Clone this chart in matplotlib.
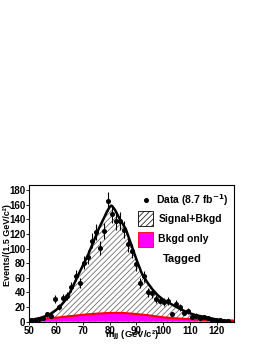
import matplotlib
matplotlib.use("Agg")
import matplotlib.pyplot as plt
from matplotlib.patches import Rectangle
import numpy as np

plt.rcParams['font.family'] = ['Liberation Sans', 'DejaVu Sans']
plt.rcParams['font.weight'] = 'bold'
plt.rcParams['hatch.linewidth'] = 0.5
plt.rcParams['mathtext.default'] = 'bf'

# data points, 1.5 GeV bins
bin_centers = 50.75 + 1.5 * np.arange(50)
counts = [2, 3, 4, 5, 10, 8, 31, 20, 32, 35,
          47, 63, 53, 81, 89, 111, 123, 101, 124, 165,
          148, 138, 138, 126, 106, 97, 79, 53, 62, 40,
          39, 31, 29, 27, 28, 10.5, 24.5, 19.5, 12, 15,
          6, 8.5, 5, 6, 5, 3, 2, 2, 1, 1]

# signal + background fit curve
fit_m = [50, 52, 54, 56, 58, 60, 62, 64, 66, 68, 70, 72, 74, 76, 78, 79, 80,
         80.5, 81, 82, 83, 84, 86, 88, 90, 92, 94, 96, 98, 100, 102, 104, 106,
         108, 110, 112, 114, 116, 118, 120, 122, 124, 126.5]
fit_v = [2, 3.5, 5, 7.5, 11, 16, 23, 32, 46, 62, 77, 92, 110, 128, 143, 151, 157,
         159, 158, 153, 146, 139, 127, 106, 85, 66, 54, 44, 36, 30, 26, 22, 18,
         14.5, 11.5, 9, 7.5, 6, 4.5, 3, 2, 1.2, 0.5]

# background only
bkg_m = [50, 55, 60, 65, 70, 75, 80, 85, 90, 95, 100, 105, 110, 115, 120, 126.5]
bkg_v = [2.5, 4, 5.5, 7.5, 9.5, 11, 12, 12, 10.5, 8.5, 6, 4.5, 3.5, 2.5, 2, 1.5]

fig = plt.figure(figsize=(2.66, 3.44), dpi=100)
ax = fig.add_axes([0.110, 0.0648, 0.771, 0.397])

ax.fill_between(fit_m, 0, fit_v, facecolor='white', edgecolor='#555555',
                hatch='//////', linewidth=0)
ax.plot(fit_m, fit_v, color='black', lw=1.8)
ax.fill_between(bkg_m, 0, bkg_v, facecolor='#ff00ff', linewidth=0)
ax.plot(bkg_m, bkg_v, color='red', lw=1.5)

ax.errorbar(bin_centers, counts, yerr=np.sqrt(counts), fmt='o', color='black',
            ms=2.6, elinewidth=0.8, capsize=0)

ax.set_xlim(50, 126.5)
ax.set_ylim(0, 187)
ax.set_xticks(range(50, 121, 10))
ax.set_yticks(range(0, 181, 20))
ax.tick_params(labelsize=7, length=2, width=0.6, pad=0.8)
for sp in ax.spines.values():
    sp.set_linewidth(0.8)

ax.set_ylabel('Events/(1.5 GeV/c²)', fontsize=6.5, fontweight='bold')
ax.yaxis.set_label_coords(-0.108, 0.56)
ax.yaxis.label.set_va('center')
ax.set_xlabel('m$_{jj}$ (GeV/c²)', fontsize=6.8, fontweight='bold')
ax.xaxis.set_label_coords(0.5, -0.117)
ax.xaxis.label.set_va('baseline')

# legend
ax.plot([0.57], [0.89], 'o', color='black', ms=2.6, transform=ax.transAxes)
ax.text(0.62, 0.89, 'Data (8.7 fb$^{-1}$)', transform=ax.transAxes,
        fontsize=7.5, va='center', ha='left')
ax.add_patch(Rectangle((0.53, 0.70), 0.075, 0.11, transform=ax.transAxes,
                       facecolor='white', edgecolor='black', hatch='//////', lw=0.6))
ax.text(0.63, 0.755, 'Signal+Bkgd', transform=ax.transAxes,
        fontsize=7.5, va='center', ha='left')
ax.add_patch(Rectangle((0.53, 0.55), 0.075, 0.11, transform=ax.transAxes,
                       facecolor='#ff00ff', edgecolor='red', lw=0.6))
ax.text(0.63, 0.605, 'Bkgd only', transform=ax.transAxes,
        fontsize=7.5, va='center', ha='left')
ax.text(0.745, 0.46, 'Tagged', transform=ax.transAxes,
        fontsize=8, va='center', ha='center')

fig.savefig('out.png', dpi=100)
